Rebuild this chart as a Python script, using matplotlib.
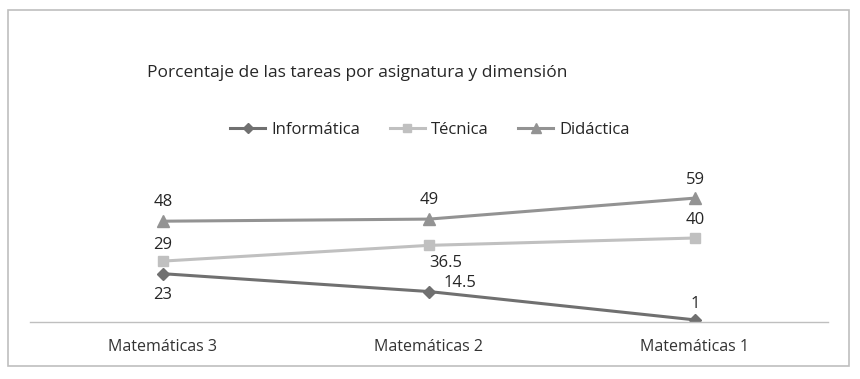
import matplotlib
matplotlib.use("Agg")
import matplotlib.pyplot as plt
from matplotlib.patches import Rectangle
from matplotlib.lines import Line2D

plt.rcParams['font.family'] = ['Open Sans', 'DejaVu Sans']

categories = ["Matemáticas 3", "Matemáticas 2", "Matemáticas 1"]
informatica = [23, 14.5, 1]
tecnica = [29, 36.5, 40]
didactica = [48, 49, 59]
title = "Porcentaje de las tareas por asignatura y dimensión"

W, H = 860, 379
fig = plt.figure(figsize=(W/100, H/100), dpi=100)
fig.patches.append(Rectangle((8/W, 1-366/H), 841/W, 356/H, transform=fig.transFigure,
                             fill=False, edgecolor='#bfbfbf', linewidth=1.2))

ax = fig.add_axes([30/W, 1-322/H, 798/W, 147/H])
x = list(range(len(categories)))
c_inf, c_tec, c_did = '#707070', '#c0c0c0', '#939393'
ax.plot(x, informatica, color=c_inf, lw=2.2, marker='D', ms=6, label='Informática')
ax.plot(x, tecnica, color=c_tec, lw=2.2, marker='s', ms=7, label='Técnica')
ax.plot(x, didactica, color=c_did, lw=2.2, marker='^', ms=8, label='Didáctica')

ax.set_xlim(-0.5, 2.5)
ax.set_ylim(0, 70)
ax.set_xticks(x)
ax.set_xticklabels(categories, fontsize=11.5, color='#333333')
ax.tick_params(axis='x', length=0, pad=12)
ax.set_yticks([])
for s in ['top', 'right', 'left']:
    ax.spines[s].set_visible(False)
ax.spines['bottom'].set_color('#bfbfbf')
ax.spines['bottom'].set_linewidth(1.0)

def fmt(v):
    return str(int(v)) if float(v).is_integer() else str(v)

fs = 12
lc = '#262626'
# offsets in points (dx, dy) per series/point
inf_off = [(0, -15), (22, 6), (0, 11.5)]
tec_off = [(0, 11.5), (12, -13), (0, 13)]
did_off = [(0, 14), (0, 14), (0, 13)]
for vals, offs in [(informatica, inf_off), (tecnica, tec_off), (didactica, did_off)]:
    for xi, v, (dx, dy) in zip(x, vals, offs):
        ax.annotate(fmt(v), (xi, v), xytext=(dx, dy), textcoords='offset points',
                    ha='center', va='center', fontsize=fs, color=lc)

fig.text(147/W, 1-73/H, title, fontsize=12.5, color='#262626', ha='left', va='center')

handles = [Line2D([], [], color=c_inf, lw=2.2, marker='D', ms=5),
           Line2D([], [], color=c_tec, lw=2.2, marker='s', ms=6),
           Line2D([], [], color=c_did, lw=2.2, marker='^', ms=7)]
leg = fig.legend(handles, ['Informática', 'Técnica', 'Didáctica'], loc='center',
                 bbox_to_anchor=(430/W, 1-130/H), ncol=3, frameon=False,
                 fontsize=12, handlelength=2.1, handletextpad=0.35, columnspacing=1.8)
for t in leg.get_texts():
    t.set_color('#262626')

fig.savefig("out.png", dpi=100)
